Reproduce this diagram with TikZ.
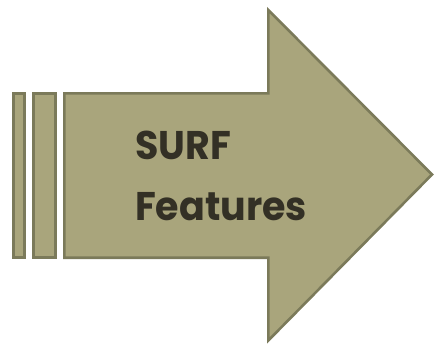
\documentclass[tikz,border=0pt]{standalone}
\usepackage{fontspec}
\setmainfont{Poppins}
\definecolor{olivefill}{HTML}{A9A57C}
\definecolor{olivedraw}{HTML}{7B7A5A}
\definecolor{labeltext}{HTML}{333025}
\begin{document}
\begin{tikzpicture}[x=1pt,y=-1pt,
  part/.style={fill=olivefill,draw=olivedraw,line width=2.6pt,line join=miter},
  label/.style={text=labeltext,font=\fontsize{40}{42}\selectfont\bfseries,align=left,anchor=base west,inner sep=0pt,xscale=0.95}]
\useasboundingbox (0,0) rectangle (434,343);
% two thin bars behind the arrow
\draw[part] (13.3,93.3) rectangle (24.7,257.7);
\draw[part] (33.3,93.3) rectangle (55.7,257.7);
% the arrow itself
\draw[part] (64.3,93.3) -- (268.3,93.3) -- (268.3,10) -- (432,174.5)
  -- (268.3,340.5) -- (268.3,257.7) -- (64.3,257.7) -- cycle;
\node[label] (surf) at (135,159) {SURF};
\node[label] (feat) at (135,220) {Features};
\end{tikzpicture}
\end{document}
